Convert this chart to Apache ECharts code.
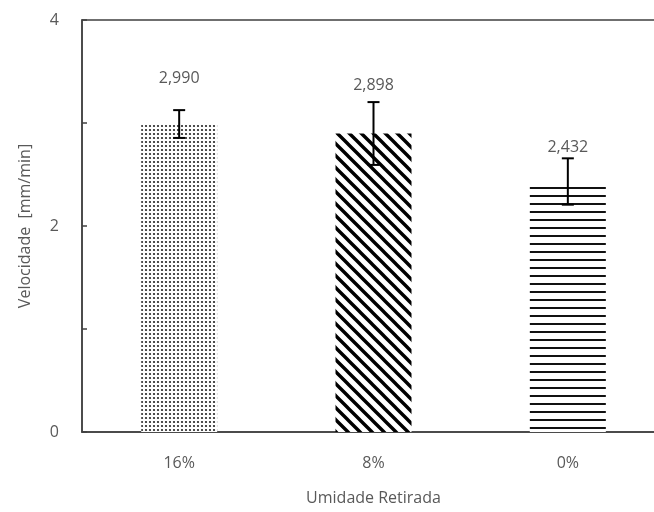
<!DOCTYPE html>
<html>
<head>
<meta charset="utf-8">
<script src="https://cdn.jsdelivr.net/npm/echarts@6/dist/echarts.min.js"></script>
<style>
  html, body { margin: 0; padding: 0; background: #fff; }
  #chart { width: 654px; height: 512px; }
</style>
</head>
<body>
<div id="chart"></div>
<script>
// Velocity by moisture removed, with standard-deviation error bars
var categories = ['16%', '8%', '0%'];
var velocity = [2.990, 2.898, 2.432];
var stdDev = [0.135, 0.305, 0.225];
var yTicks = [0, 1, 2, 3, 4];

// Fill patterns for the three bars
function makeTile(w, h, draw) {
  var c = document.createElement('canvas');
  c.width = w; c.height = h;
  var ctx = c.getContext('2d');
  ctx.fillStyle = '#fff';
  ctx.fillRect(0, 0, w, h);
  draw(ctx);
  return { image: c, repeat: 'repeat' };
}
var dotFill = makeTile(4, 4, function (ctx) {
  ctx.fillStyle = '#222';
  ctx.beginPath();
  ctx.arc(2, 2, 1.1, 0, Math.PI * 2);
  ctx.fill();
});
var diagFill = makeTile(12, 12, function (ctx) {
  ctx.strokeStyle = '#000';
  ctx.lineWidth = 3.4;
  ctx.beginPath();
  for (var k = -2; k <= 2; k++) {
    ctx.moveTo(k * 12 - 2, -2);
    ctx.lineTo(k * 12 + 14, 14);
  }
  ctx.stroke();
});
var hLineFill = makeTile(8, 8, function (ctx) {
  ctx.fillStyle = '#111';
  ctx.fillRect(0, 3, 8, 2);
});
var fills = [dotFill, diagFill, hLineFill];
var labelGap = [38, 40, 26];

var textColor = '#595959';
var fontFamily = '"Open Sans", "DejaVu Sans", sans-serif';

var chart = echarts.init(document.getElementById('chart'), null, { renderer: 'canvas' });

chart.setOption({
  animation: false,
  backgroundColor: '#fff',
  grid: {
    left: 82, top: 20, right: -11, bottom: 80,
    outerBoundsMode: 'none',
    containLabel: false,
    show: true, borderColor: '#404040', borderWidth: 1.5
  },
  xAxis: {
    type: 'category',
    data: categories,
    name: 'Umidade Retirada',
    nameLocation: 'middle',
    nameGap: 58,
    nameTextStyle: { color: textColor, fontSize: 16, fontFamily: fontFamily },
    axisLine: { lineStyle: { color: '#404040', width: 1.5 } },
    axisTick: { show: false },
    axisLabel: { color: textColor, fontSize: 16, fontFamily: fontFamily, margin: 23 }
  },
  yAxis: {
    type: 'value',
    min: yTicks[0],
    max: yTicks[yTicks.length - 1],
    interval: 1,
    name: 'Velocidade  [mm/min]',
    nameLocation: 'middle',
    nameGap: 49,
    nameTextStyle: { color: textColor, fontSize: 16, fontFamily: fontFamily },
    axisLine: { show: true, lineStyle: { color: '#404040', width: 1.5 } },
    axisTick: { show: true, inside: true, length: 5, lineStyle: { color: '#404040', width: 1.5 } },
    splitLine: { show: false },
    axisLabel: {
      color: textColor, fontSize: 16, fontFamily: fontFamily, margin: 23,
      formatter: function (v) { return v % 2 === 0 ? String(v) : ''; }
    }
  },
  series: [
    {
      type: 'bar',
      barWidth: 76,
      data: velocity.map(function (v, i) {
        return {
          value: v,
          itemStyle: { color: fills[i] },
          label: { distance: labelGap[i] }
        };
      }),
      label: {
        show: true,
        position: 'top',
        color: textColor,
        fontSize: 16,
        fontFamily: fontFamily,
        formatter: function (p) { return p.value.toFixed(3).replace('.', ','); }
      },
      z: 2
    },
    {
      type: 'custom',
      z: 3,
      data: velocity.map(function (v, i) { return [i, v - stdDev[i], v + stdDev[i]]; }),
      renderItem: function (params, api) {
        var lo = api.coord([api.value(0), api.value(1)]);
        var hi = api.coord([api.value(0), api.value(2)]);
        var half = 6;
        var style = { stroke: '#000', lineWidth: 2 };
        return {
          type: 'group',
          children: [
            { type: 'line', shape: { x1: hi[0], y1: hi[1], x2: lo[0], y2: lo[1] }, style: style },
            { type: 'line', shape: { x1: hi[0] - half, y1: hi[1], x2: hi[0] + half, y2: hi[1] }, style: style },
            { type: 'line', shape: { x1: lo[0] - half, y1: lo[1], x2: lo[0] + half, y2: lo[1] }, style: style }
          ]
        };
      }
    }
  ]
});
</script>
</body>
</html>
